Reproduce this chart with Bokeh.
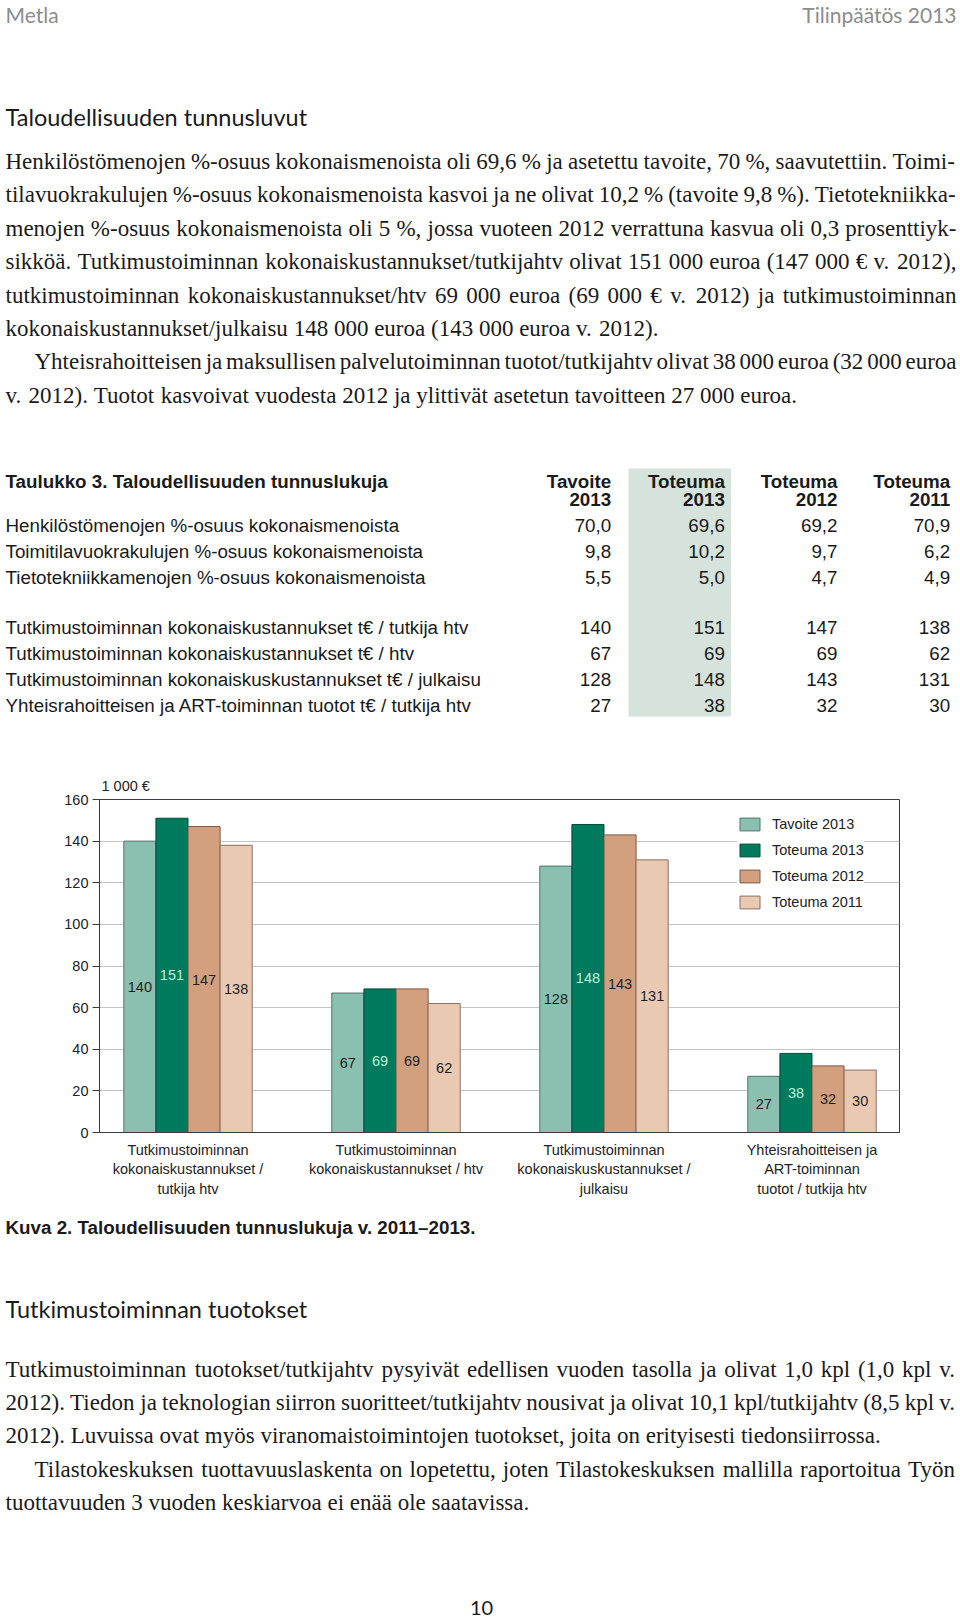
from bokeh.plotting import figure
from bokeh.models import ColumnDataSource, Range1d, FixedTicker
from bokeh.layouts import column
from bokeh.transform import dodge
from bokeh.core.properties import value
from bokeh.embed import file_html
from bokeh.resources import INLINE

# ---------------- data ----------------
series_names = ["Tavoite 2013", "Toteuma 2013", "Toteuma 2012", "Toteuma 2011"]
header_top = ["Tavoite", "Toteuma", "Toteuma", "Toteuma"]
header_year = ["2013", "2013", "2012", "2011"]

pct_rows = ["Henkilöstömenojen %-osuus kokonaismenoista",
            "Toimitilavuokrakulujen %-osuus kokonaismenoista",
            "Tietotekniikkamenojen %-osuus kokonaismenoista"]
pct_tavoite_2013 = [70.0, 9.8, 5.5]
pct_toteuma_2013 = [69.6, 10.2, 5.0]
pct_toteuma_2012 = [69.2, 9.7, 4.7]
pct_toteuma_2011 = [70.9, 6.2, 4.9]

cost_rows = ["Tutkimustoiminnan kokonaiskustannukset t€ / tutkija htv",
             "Tutkimustoiminnan kokonaiskustannukset t€ / htv",
             "Tutkimustoiminnan kokonaiskuskustannukset t€ / julkaisu",
             "Yhteisrahoitteisen ja ART-toiminnan tuotot t€ / tutkija htv"]
tavoite_2013 = [140, 67, 128, 27]
toteuma_2013 = [151, 69, 148, 38]
toteuma_2012 = [147, 69, 143, 32]
toteuma_2011 = [138, 62, 131, 30]

chart_categories = ["Tutkimustoiminnan\nkokonaiskustannukset /\ntutkija htv",
                    "Tutkimustoiminnan\nkokonaiskustannukset / htv",
                    "Tutkimustoiminnan\nkokonaiskuskustannukset /\njulkaisu",
                    "Yhteisrahoitteisen ja\nART-toiminnan\ntuotot / tutkija htv"]
y_ticks = [0, 20, 40, 60, 80, 100, 120, 140, 160]

body_top = [
    ("Henkilöstömenojen %-osuus kokonaismenoista oli 69,6 % ja asetettu tavoite, 70 %, saavutettiin. Toimi-", 0, True),
    ("tilavuokrakulujen %-osuus kokonaismenoista kasvoi ja ne olivat 10,2 % (tavoite 9,8 %). Tietotekniikka-", 0, True),
    ("menojen %-osuus kokonaismenoista oli 5 %, jossa vuoteen 2012 verrattuna kasvua oli 0,3 prosenttiyk-", 0, True),
    ("sikköä. Tutkimustoiminnan kokonaiskustannukset/tutkijahtv olivat 151 000 euroa (147 000 € v. 2012),", 0, True),
    ("tutkimustoiminnan kokonaiskustannukset/htv 69 000 euroa (69 000 € v. 2012) ja tutkimustoiminnan", 0, True),
    ("kokonaiskustannukset/julkaisu 148 000 euroa (143 000 euroa v. 2012).", 0, False),
    ("Yhteisrahoitteisen ja maksullisen palvelutoiminnan tuotot/tutkijahtv olivat 38 000 euroa (32 000 euroa", 29, True),
    ("v. 2012). Tuotot kasvoivat vuodesta 2012 ja ylittivät asetetun tavoitteen 27 000 euroa.", 0, False),
]
body_bottom = [
    ("Tutkimustoiminnan tuotokset/tutkijahtv pysyivät edellisen vuoden tasolla ja olivat 1,0 kpl (1,0 kpl v.", 0, True),
    ("2012). Tiedon ja teknologian siirron suoritteet/tutkijahtv nousivat ja olivat 10,1 kpl/tutkijahtv (8,5 kpl v.", 0, True),
    ("2012). Luvuissa ovat myös viranomaistoimintojen tuotokset, joita on erityisesti tiedonsiirrossa.", 0, False),
    ("Tilastokeskuksen tuottavuuslaskenta on lopetettu, joten Tilastokeskuksen mallilla raportoitua Työn", 29, True),
    ("tuottavuuden 3 vuoden keskiarvoa ei enää ole saatavissa.", 0, False),
]

# ---------------- text layout helpers ----------------
TIMES = {' ': 250, '!': 333, '%': 833, '(': 333, ')': 333, ',': 250, '-': 333, '.': 250,
         '/': 278, ':': 278, '€': 500, '–': 500,
         'A': 722, 'B': 667, 'C': 667, 'D': 722, 'E': 611, 'F': 556, 'G': 722, 'H': 722,
         'I': 333, 'J': 389, 'K': 722, 'L': 611, 'M': 889, 'N': 722, 'O': 722, 'P': 556,
         'Q': 722, 'R': 667, 'S': 556, 'T': 611, 'U': 722, 'V': 722, 'W': 944, 'X': 722,
         'Y': 722, 'Z': 611,
         'a': 444, 'b': 500, 'c': 444, 'd': 500, 'e': 444, 'f': 333, 'g': 500, 'h': 500,
         'i': 278, 'j': 278, 'k': 500, 'l': 278, 'm': 778, 'n': 500, 'o': 500, 'p': 500,
         'q': 500, 'r': 333, 's': 389, 't': 278, 'u': 500, 'v': 500, 'w': 722, 'x': 500,
         'y': 500, 'z': 444, 'ä': 444, 'ö': 500, 'Ä': 722, 'Ö': 722}


def em(s):
    return sum(TIMES.get(c, 500) for c in s) / 1000.0


LEFT, RIGHT = 5.0, 956.0
MIN_GAP = 0.12


def body_font_size(lines):
    s = 23.0
    for txt, ind, just in lines:
        avail = RIGHT - LEFT - ind
        words = txt.split(" ")
        nat = sum(em(w) for w in words) + MIN_GAP * (len(words) - 1)
        s = min(s, avail / nat * 0.997)
    return s


FS = min(body_font_size(body_top), body_font_size(body_bottom))


def layout_words(lines, ys):
    xs, yy, ws = [], [], []
    for (txt, ind, just), y in zip(lines, ys):
        words = txt.split(" ")
        widths = [em(w) * FS for w in words]
        if just and len(words) > 1:
            gap = (RIGHT - LEFT - ind - sum(widths)) / (len(words) - 1)
        else:
            gap = 0.25 * FS
        x = LEFT + ind
        for w, wd in zip(words, widths):
            xs.append(x)
            yy.append(y)
            ws.append(w)
            x += wd + gap
    return xs, yy, ws


def add_text(p, xs, ys, texts, font, size, color="#1a1a1a", align="left", style="normal"):
    src = ColumnDataSource(dict(x=xs, y=ys, t=texts))
    p.text(x="x", y="y", text="t", source=src, text_font=value(font), text_font_size=size,
           text_color=color, text_align=align, text_baseline="middle", text_font_style=style)


def page_fig(y0, y1):
    p = figure(width=960, height=int(round(y1 - y0)), x_range=Range1d(0, 960), y_range=Range1d(y1, y0),
               output_backend="svg", toolbar_location=None, min_border=0, frame_align=False,
               x_axis_location=None, y_axis_location=None)
    p.min_border_left = 0
    p.min_border_right = 0
    p.min_border_top = 0
    p.min_border_bottom = 0
    p.grid.visible = False
    p.outline_line_color = None
    p.background_fill_color = "white"
    p.border_fill_color = "white"
    return p


TFS = "18.8px"

# ---------------- top page part ----------------
pt = page_fig(0, 760)
add_text(pt, [5], [13.5], ["Metla"], "Lato", "21px", color="#8c8c8c")
add_text(pt, [956], [13.5], ["Tilinpäätös 2013"], "Lato", "21px", color="#8c8c8c", align="right")
add_text(pt, [5], [116], ["Taloudellisuuden tunnusluvut"], "Lato", "23.5px", color="#1a1a1a")

top_ys = [161, 194.4, 227.8, 261.2, 294.6, 328, 361.4, 394.8]
bx, by, bw = layout_words(body_top, top_ys)
add_text(pt, bx, by, bw, "Liberation Serif", "%.2fpx" % FS, color="#1a1a1a")

# table
col_right = [610.7, 724.4, 837.0, 949.7]
pt.quad(left=628, right=730.6, top=468, bottom=716, fill_color="#d5e3dc", line_color=None)
add_text(pt, [5], [480.5], ["Taulukko 3. Taloudellisuuden tunnuslukuja"], "Liberation Sans", TFS,
         color="#1a1a1a", style="bold")
add_text(pt, col_right, [480.5] * 4, header_top, "Liberation Sans", TFS, color="#1a1a1a",
         align="right", style="bold")
add_text(pt, col_right, [499] * 4, header_year, "Liberation Sans", TFS, color="#1a1a1a",
         align="right", style="bold")

pct_y = [525, 551, 576.5]
add_text(pt, [5] * 3, pct_y, pct_rows, "Liberation Sans", TFS, color="#1a1a1a")
for cx, vals in zip(col_right, [pct_tavoite_2013, pct_toteuma_2013, pct_toteuma_2012, pct_toteuma_2011]):
    add_text(pt, [cx] * 3, pct_y, [("%.1f" % v).replace(".", ",") for v in vals],
             "Liberation Sans", TFS, color="#1a1a1a", align="right")

cost_y = [627, 653, 679, 705]
add_text(pt, [5] * 4, cost_y, cost_rows, "Liberation Sans", TFS, color="#1a1a1a")
for cx, vals in zip(col_right, [tavoite_2013, toteuma_2013, toteuma_2012, toteuma_2011]):
    add_text(pt, [cx] * 4, cost_y, [str(v) for v in vals],
             "Liberation Sans", TFS, color="#1a1a1a", align="right")

# ---------------- chart ----------------
pc = figure(width=960, height=445, x_range=Range1d(-0.4255, 3.4207), y_range=Range1d(0, 160),
            output_backend="svg", toolbar_location=None, title="1 000 €", frame_align=False,
            min_border_left=99, min_border_right=61, min_border_top=39, min_border_bottom=73)
pc.title.align = "left"
pc.title.offset = 2
pc.title.standoff = 12
pc.title.text_font = "Liberation Sans"
pc.title.text_font_size = "14.5px"
pc.title.text_font_style = "normal"
pc.title.text_color = "#222222"

pc.background_fill_color = "white"
pc.border_fill_color = "white"
pc.outline_line_color = "#3a3a3a"
pc.outline_line_width = 1
pc.outline_line_alpha = 1.0

pc.xgrid.visible = False
pc.ygrid.grid_line_color = "#c4c4c4"
pc.ygrid.grid_line_width = 1

pc.yaxis.ticker = FixedTicker(ticks=y_ticks)
pc.yaxis.major_tick_out = 7
pc.yaxis.major_tick_in = 0
pc.yaxis.minor_tick_line_color = None
pc.yaxis.axis_line_color = "#3a3a3a"
pc.yaxis.major_tick_line_color = "#3a3a3a"
pc.yaxis.major_label_standoff = 4
pc.yaxis.major_label_text_font = "Liberation Sans"
pc.yaxis.major_label_text_font_size = "14.5px"
pc.yaxis.major_label_text_color = "#222222"

pc.xaxis.ticker = FixedTicker(ticks=[0, 1, 2, 3])
pc.xaxis.major_label_overrides = {i: c for i, c in enumerate(chart_categories)}
pc.xaxis.major_tick_line_color = None
pc.xaxis.major_tick_out = 0
pc.xaxis.major_tick_in = 0
pc.xaxis.minor_tick_line_color = None
pc.xaxis.axis_line_color = "#3a3a3a"
pc.xaxis.major_label_standoff = 9
pc.xaxis.major_label_text_font = "Liberation Sans"
pc.xaxis.major_label_text_font_size = "14.5px"
pc.xaxis.major_label_text_color = "#222222"
pc.xaxis.major_label_text_line_height = 1.22

fills = ["#8bbfb0", "#007a5c", "#d3a07f", "#e9c9b1"]
lines = ["#4c7569", "#004d38", "#7a5843", "#8a7060"]
label_colors = ["#1e1e1e", "#b8f3df", "#1e1e1e", "#1e1e1e"]
bar_w = 0.1543
offsets = [-1.5 * bar_w, -0.5 * bar_w, 0.5 * bar_w, 1.5 * bar_w]
group_x = list(range(len(chart_categories)))

for name, vals, off, fc, lc, tc in zip(series_names, [tavoite_2013, toteuma_2013, toteuma_2012, toteuma_2011],
                                       offsets, fills, lines, label_colors):
    src = ColumnDataSource(dict(x=group_x, v=vals, h=[v / 2 for v in vals], s=[str(v) for v in vals]))
    pc.vbar(x=dodge("x", off), top="v", bottom=0, width=bar_w, source=src,
            fill_color=fc, line_color=lc, line_width=1, legend_label=name)
    pc.text(x=dodge("x", off), y="h", text="s", source=src, text_align="center", text_baseline="middle",
            text_font=value("Liberation Sans"), text_font_size="14.5px", text_color=tc)

lg = pc.legend[0]
lg.location = (638, 222)
lg.background_fill_color = "white"
lg.background_fill_alpha = 1.0
lg.border_line_color = None
lg.glyph_width = 25
lg.glyph_height = 16
lg.label_height = 16
lg.spacing = 10
lg.padding = 9
lg.margin = 0
lg.label_standoff = 10
lg.label_text_font = "Liberation Sans"
lg.label_text_font_size = "14.5px"
lg.label_text_color = "#222222"

# ---------------- bottom page part ----------------
pb = page_fig(1205, 1621)
add_text(pb, [5], [1226.7], ["Kuva 2. Taloudellisuuden tunnuslukuja v. 2011–2013."], "Liberation Sans",
         TFS, color="#1a1a1a", style="bold")
add_text(pb, [5], [1308], ["Tutkimustoiminnan tuotokset"], "Lato", "23.5px", color="#1a1a1a")
bot_ys = [1369, 1402, 1435.3, 1468.6, 1502]
bx2, by2, bw2 = layout_words(body_bottom, bot_ys)
add_text(pb, bx2, by2, bw2, "Liberation Serif", "%.2fpx" % FS, color="#1a1a1a")
add_text(pb, [481], [1607], ["10"], "Lato", "20px", color="#1a1a1a", align="center")

layout = column(pt, pc, pb, spacing=0)
open("out.html", "w").write(file_html(layout, INLINE))
